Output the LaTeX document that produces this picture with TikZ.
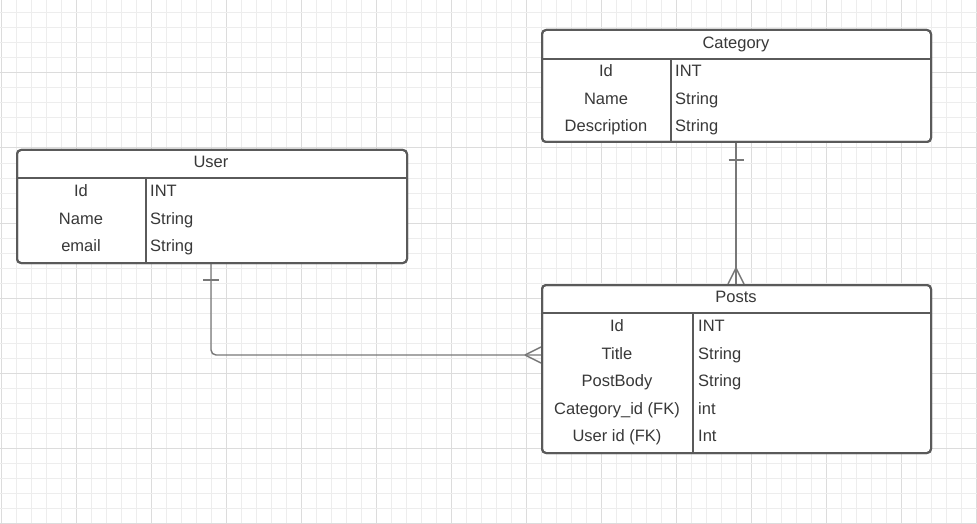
\documentclass[tikz,border=0pt]{standalone}
\usepackage{fontspec}
\setmainfont{Liberation Sans}
\usetikzlibrary{calc}
\definecolor{gridminor}{HTML}{EDEDED}
\definecolor{gridmajor}{HTML}{DCDCDC}
\definecolor{boxline}{HTML}{5A5A5A}
\definecolor{connline}{HTML}{787878}
\definecolor{txt}{HTML}{383838}
\begin{document}
\begin{tikzpicture}[x=1pt,y=-1pt,
  erdtable/.style={draw=boxline,line width=2pt,rounded corners=4pt,fill=white,inner sep=0pt,anchor=north west},
  sepline/.style={draw=boxline,line width=2pt},
  conn/.style={draw=connline,line width=1.4pt},
  lbl/.style={font=\fontsize{16.5}{18}\selectfont,text=txt,inner sep=0pt,text height=11.8pt,text depth=0pt},
  val/.style={lbl,anchor=west},
  minorgrid/.style={draw=gridminor,line width=1pt},
  majorgrid/.style={draw=gridmajor,line width=1pt}]
\useasboundingbox (0,0) rectangle (977,524);
\fill[white] (0,0) rectangle (977,524);
% grid
\foreach \k in {0,...,65}{
  \pgfmathtruncatemacro{\m}{mod(\k,5)}
  \ifnum\m=0 \draw[majorgrid] ({1+15*\k},0) -- ({1+15*\k},524);
  \else \draw[minorgrid] ({1+15*\k},0) -- ({1+15*\k},524); \fi
}
\foreach \k in {0,...,34}{
  \pgfmathtruncatemacro{\m}{mod(\k,5)}
  \ifnum\m=4 \draw[majorgrid] (0,{13+15*\k}) -- (977,{13+15*\k});
  \else \draw[minorgrid] (0,{13+15*\k}) -- (977,{13+15*\k}); \fi
}
% tables
\node[erdtable,minimum width=390pt,minimum height=113pt] (user) at (16,149) {};
\node[erdtable,minimum width=389pt,minimum height=112pt] (cat) at (541,29) {};
\node[erdtable,minimum width=389pt,minimum height=168pt] (posts) at (541,284) {};
% connectors
\coordinate (catfoot) at ($(cat.south west)+(195,0)$);
\coordinate (poststop) at ($(posts.north west)+(195,0)$);
\coordinate (userfoot) at ($(user.south west)+(195,0)$);
\coordinate (postsleft) at ($(posts.north west)+(0,71)$);
\draw[conn] (catfoot) -- (poststop);
\draw[conn] ($(catfoot)+(-7.5,17)$) -- ($(catfoot)+(7.5,17)$);
\draw[conn] ($(poststop)+(0,-16)$) -- ($(poststop)+(-8,0)$);
\draw[conn] ($(poststop)+(0,-16)$) -- ($(poststop)+(8,0)$);
\draw[conn,rounded corners=5pt] (userfoot) |- (postsleft);
\draw[conn] ($(userfoot)+(-8,16)$) -- ($(userfoot)+(8,16)$);
\draw[conn] ($(postsleft)+(-16,0)$) -- ($(postsleft)+(0,-8)$);
\draw[conn] ($(postsleft)+(-16,0)$) -- ($(postsleft)+(0,8)$);
% redraw table borders over connector ends
\node[erdtable,fill=none,minimum width=390pt,minimum height=113pt] at (16,149) {};
\node[erdtable,fill=none,minimum width=389pt,minimum height=112pt] at (541,29) {};
\node[erdtable,fill=none,minimum width=389pt,minimum height=168pt] at (541,284) {};
% separators
\draw[sepline] ($(user.north west)+(0,29)$) -- ($(user.north east)+(0,29)$);
\draw[sepline] ($(user.north west)+(130,29)$) -- ($(user.south west)+(130,0)$);
\draw[sepline] ($(cat.north west)+(0,30)$) -- ($(cat.north east)+(0,30)$);
\draw[sepline] ($(cat.north west)+(130,30)$) -- ($(cat.south west)+(130,0)$);
\draw[sepline] ($(posts.north west)+(0,29)$) -- ($(posts.north east)+(0,29)$);
\draw[sepline] ($(posts.north west)+(152,29)$) -- ($(posts.south west)+(152,0)$);
% User text
\node[lbl] (uh) at (211,162) {User};
\node[lbl] (u1) at (81,190.5) {Id};
\node[lbl] (u2) at (81,218.5) {Name};
\node[lbl] (u3) at (81,246) {email};
\node[val] (u1t) at (150,190.5) {INT};
\node[val] (u2t) at (150,218.5) {String};
\node[val] (u3t) at (150,246) {String};
% Category text
\node[lbl] (ch) at (736,42.5) {Category};
\node[lbl] (c1) at (606,70.5) {Id};
\node[lbl] (c2) at (606,98.5) {Name};
\node[lbl] (c3) at (606,126) {Description};
\node[val] (c1t) at (675,70.5) {INT};
\node[val] (c2t) at (675,98.5) {String};
\node[val] (c3t) at (675,126) {String};
% Posts text
\node[lbl] (ph) at (736,297) {Posts};
\node[lbl] (p1) at (617,326) {Id};
\node[lbl] (p2) at (617,353.5) {Title};
\node[lbl] (p3) at (617,381) {PostBody};
\node[lbl] (p4) at (617,408.5) {Category\_id (FK)};
\node[lbl] (p5) at (617,436) {User id (FK)};
\node[val] (p1t) at (698,326) {INT};
\node[val] (p2t) at (698,353.5) {String};
\node[val] (p3t) at (698,381) {String};
\node[val] (p4t) at (698,408.5) {int};
\node[val] (p5t) at (698,436) {Int};
\end{tikzpicture}
\end{document}
